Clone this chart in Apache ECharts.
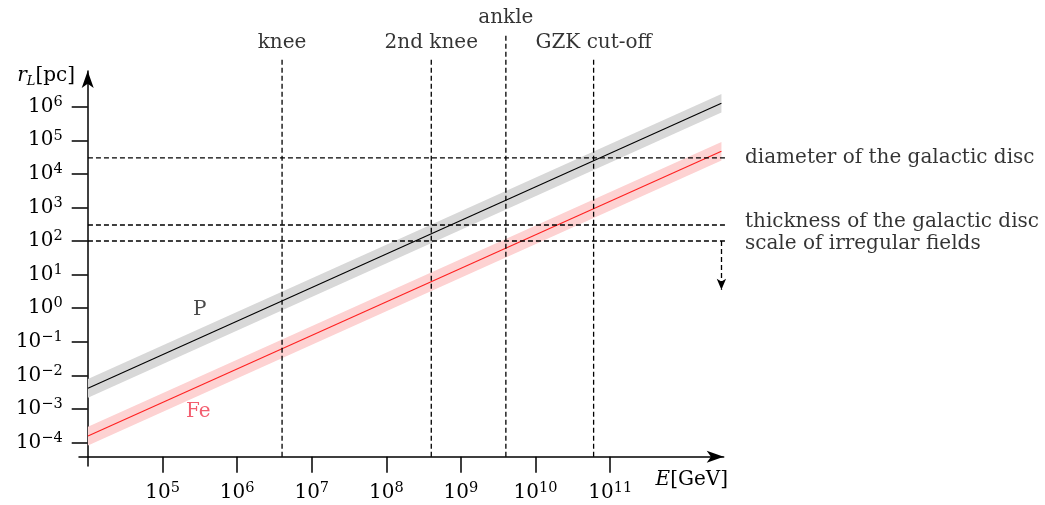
<!DOCTYPE html>
<html><head><meta charset="utf-8">
<script src="https://cdn.jsdelivr.net/npm/echarts@6/dist/echarts.min.js"></script>
<style>html,body{margin:0;padding:0;background:#fff}#c{width:1045px;height:505px}</style>
</head><body><div id="c"></div>
<script>
// ---------------- data ----------------
const energyRange   = [1e4, 3.1e12];        // E [GeV], extent of the Larmor-radius curves
const rProton       = [4.1e-3, 1.27e6];     // r_L [pc] of protons at the two ends
const rProtonLow    = [2.15e-3, 6.7e5];
const rProtonHigh   = [7.8e-3, 2.4e6];
const rIron         = [1.55e-4, 4.7e4];     // r_L [pc] of iron nuclei
const rIronLow      = [8.2e-5, 2.5e4];
const rIronHigh     = [2.95e-4, 8.9e4];
const energyMarks      = [4e6, 4e8, 4e9, 6e10];
const energyMarkLabels = ['knee', '2nd knee', 'ankle', 'GZK cut-off'];
const scaleMarks       = [3e4, 300, 100];   // pc
const scaleMarkLabels  = ['diameter of the galactic disc', 'thickness of the galactic disc', 'scale of irregular fields'];
const xTickExps = [5, 6, 7, 8, 9, 10, 11];
const yTickExps = [-4, -3, -2, -1, 0, 1, 2, 3, 4, 5, 6];
const speciesLabels = ['P', 'Fe'];

// ---------------- layout (log10 units) ----------------
const L = Math.log10;
const X_MIN = 3.88, X_MAX = 12.522, Y_MIN = -4.70, Y_MAX = 7.063;
const AXIS_Y = -4.423;                       // level of the drawn x-axis
const AXIS_X = 4.0;                          // position of the drawn y-axis
const V_TOP = [7.45, 7.45, 8.19, 7.45];      // top ends of the vertical dashed lines
const H_END = 12.70;                         // right ends of the horizontal dashed lines
const H_LABEL_SHIFT = [0, -3, 3];            // px nudges of the right-hand labels
const ARROW_END = 0.55;                      // end of the downward arrow
const SPECIES_POS = [[5.50, -0.06], [5.48, -3.08]];

const SERIF = 'DejaVu Serif';
const INK = '#000';
const DASH = {color: '#000', width: 1.3, type: [5, 3]};

function pow10(v) {
  const e = Math.round(v);
  return '{b|10}{s|' + (e < 0 ? '\u2212' + (-e) : e) + '}';
}
const tickRich = {
  b: {fontFamily: SERIF, fontSize: 20, color: INK, lineHeight: 24},
  s: {fontFamily: SERIF, fontSize: 14.5, color: INK, verticalAlign: 'top', lineHeight: 15}
};

function bandSeries(lo, hi, color) {
  return {
    type: 'custom', silent: true, z: 1, clip: false,
    data: [[L(energyRange[0]), L(lo[0]), L(hi[0]), L(energyRange[1]), L(lo[1]), L(hi[1])]],
    renderItem: function (params, api) {
      const a = api.coord([api.value(0), api.value(1)]);
      const b = api.coord([api.value(3), api.value(4)]);
      const c = api.coord([api.value(3), api.value(5)]);
      const d = api.coord([api.value(0), api.value(2)]);
      return {type: 'polygon', shape: {points: [a, b, c, d]}, style: {fill: color}};
    }
  };
}
function curve(r, color) {
  return {
    type: 'line', silent: true, z: 3, showSymbol: false, clip: false,
    data: [[L(energyRange[0]), L(r[0])], [L(energyRange[1]), L(r[1])]],
    lineStyle: {color: color, width: 1.1}
  };
}

const series = [
  bandSeries(rProtonLow, rProtonHigh, '#d8d8d8'),
  bandSeries(rIronLow, rIronHigh, '#fdd2d2'),
  curve(rProton, '#000'),
  curve(rIron, '#ff2020')
];

energyMarks.forEach(function (E, i) {
  series.push({
    type: 'line', silent: true, z: 4, showSymbol: false, clip: false,
    data: [[L(E), AXIS_Y], [L(E), V_TOP[i]]], lineStyle: DASH
  });
});
scaleMarks.forEach(function (r, i) {
  const s = {
    type: 'line', silent: true, z: 4, showSymbol: false, clip: false,
    data: [[AXIS_X, L(r)], [H_END, L(r)]], lineStyle: DASH
  };
  if (i === scaleMarks.length - 1) {
    s.markLine = {
      silent: true, animation: false, symbol: ['none', 'arrow'], symbolSize: [7, 11],
      label: {show: false}, lineStyle: DASH,
      data: [[{coord: [L(energyRange[1]), L(r)]}, {coord: [L(energyRange[1]), ARROW_END]}]]
    };
  }
  series.push(s);
});

const labelFont = {fontFamily: SERIF, fontSize: 20, color: INK};
series.push({
  type: 'scatter', silent: true, clip: false, symbolSize: 0, z: 5,
  data: energyMarks.map(function (E, i) { return {name: energyMarkLabels[i], value: [L(E), V_TOP[i]]}; }),
  label: Object.assign({show: true, position: 'top', distance: 5, formatter: '{b}'}, labelFont)
});
series.push({
  type: 'scatter', silent: true, clip: false, symbolSize: 0, z: 5,
  data: scaleMarks.map(function (r, i) {
    return {name: scaleMarkLabels[i], value: [H_END, L(r)], label: {offset: [0, H_LABEL_SHIFT[i]]}};
  }),
  label: Object.assign({show: true, position: 'right', distance: 8, formatter: '{b}'}, labelFont)
});
series.push({
  type: 'scatter', silent: true, clip: false, symbolSize: 0, z: 5,
  data: speciesLabels.map(function (n, i) {
    return {name: n, value: SPECIES_POS[i], label: {color: i === 0 ? '#1a1a1a' : '#f0364c'}};
  }),
  label: Object.assign({show: true, position: 'inside', formatter: '{b}'}, labelFont)
});

const chart = echarts.init(document.getElementById('c'), null, {renderer: 'canvas'});
chart.setOption({
  animation: false,
  backgroundColor: '#fff',
  grid: {left: 79, right: 321.3, top: 71, bottom: 39, containLabel: false, outerBoundsMode: 'none'},
  xAxis: {
    type: 'value', min: X_MIN, max: X_MAX, offset: -9.3,
    axisLine: {show: true, onZero: false, symbol: ['none', 'arrow'], symbolSize: [9, 17],
      lineStyle: {color: '#000', width: 1.5}},
    axisTick: {show: true, length: 16, customValues: xTickExps, lineStyle: {color: '#000', width: 1.5}},
    axisLabel: {customValues: xTickExps, margin: 24, formatter: pow10, rich: tickRich},
    splitLine: {show: false}
  },
  yAxis: {
    type: 'value', min: Y_MIN, max: Y_MAX, offset: -8.7,
    axisLine: {show: true, onZero: false, symbol: ['none', 'arrow'], symbolSize: [9, 17],
      lineStyle: {color: '#000', width: 1.5}},
    axisTick: {show: true, length: 16, customValues: yTickExps, lineStyle: {color: '#000', width: 1.5}},
    axisLabel: {customValues: yTickExps, margin: 25, formatter: pow10, rich: tickRich},
    splitLine: {show: false}
  },
  graphic: [
    {type: 'text', x: 75, y: 76, silent: true, style: {
      text: '{i|r}{sub|L}{n|[pc]}', align: 'right', verticalAlign: 'middle',
      rich: {
        i: {fontFamily: SERIF, fontStyle: 'italic', fontSize: 20, color: INK, lineHeight: 24},
        sub: {fontFamily: SERIF, fontStyle: 'italic', fontSize: 13, color: INK, verticalAlign: 'bottom', lineHeight: 14},
        n: {fontFamily: SERIF, fontSize: 20, color: INK, lineHeight: 24}
      }}},
    {type: 'text', x: 728, y: 480, silent: true, style: {
      text: '{i|E}{n|[GeV]}', align: 'right', verticalAlign: 'middle',
      rich: {
        i: {fontFamily: SERIF, fontStyle: 'italic', fontSize: 20, color: INK, lineHeight: 24},
        n: {fontFamily: SERIF, fontSize: 20, color: INK, lineHeight: 24}
      }}}
  ],
  series: series
});
</script>
</body></html>
